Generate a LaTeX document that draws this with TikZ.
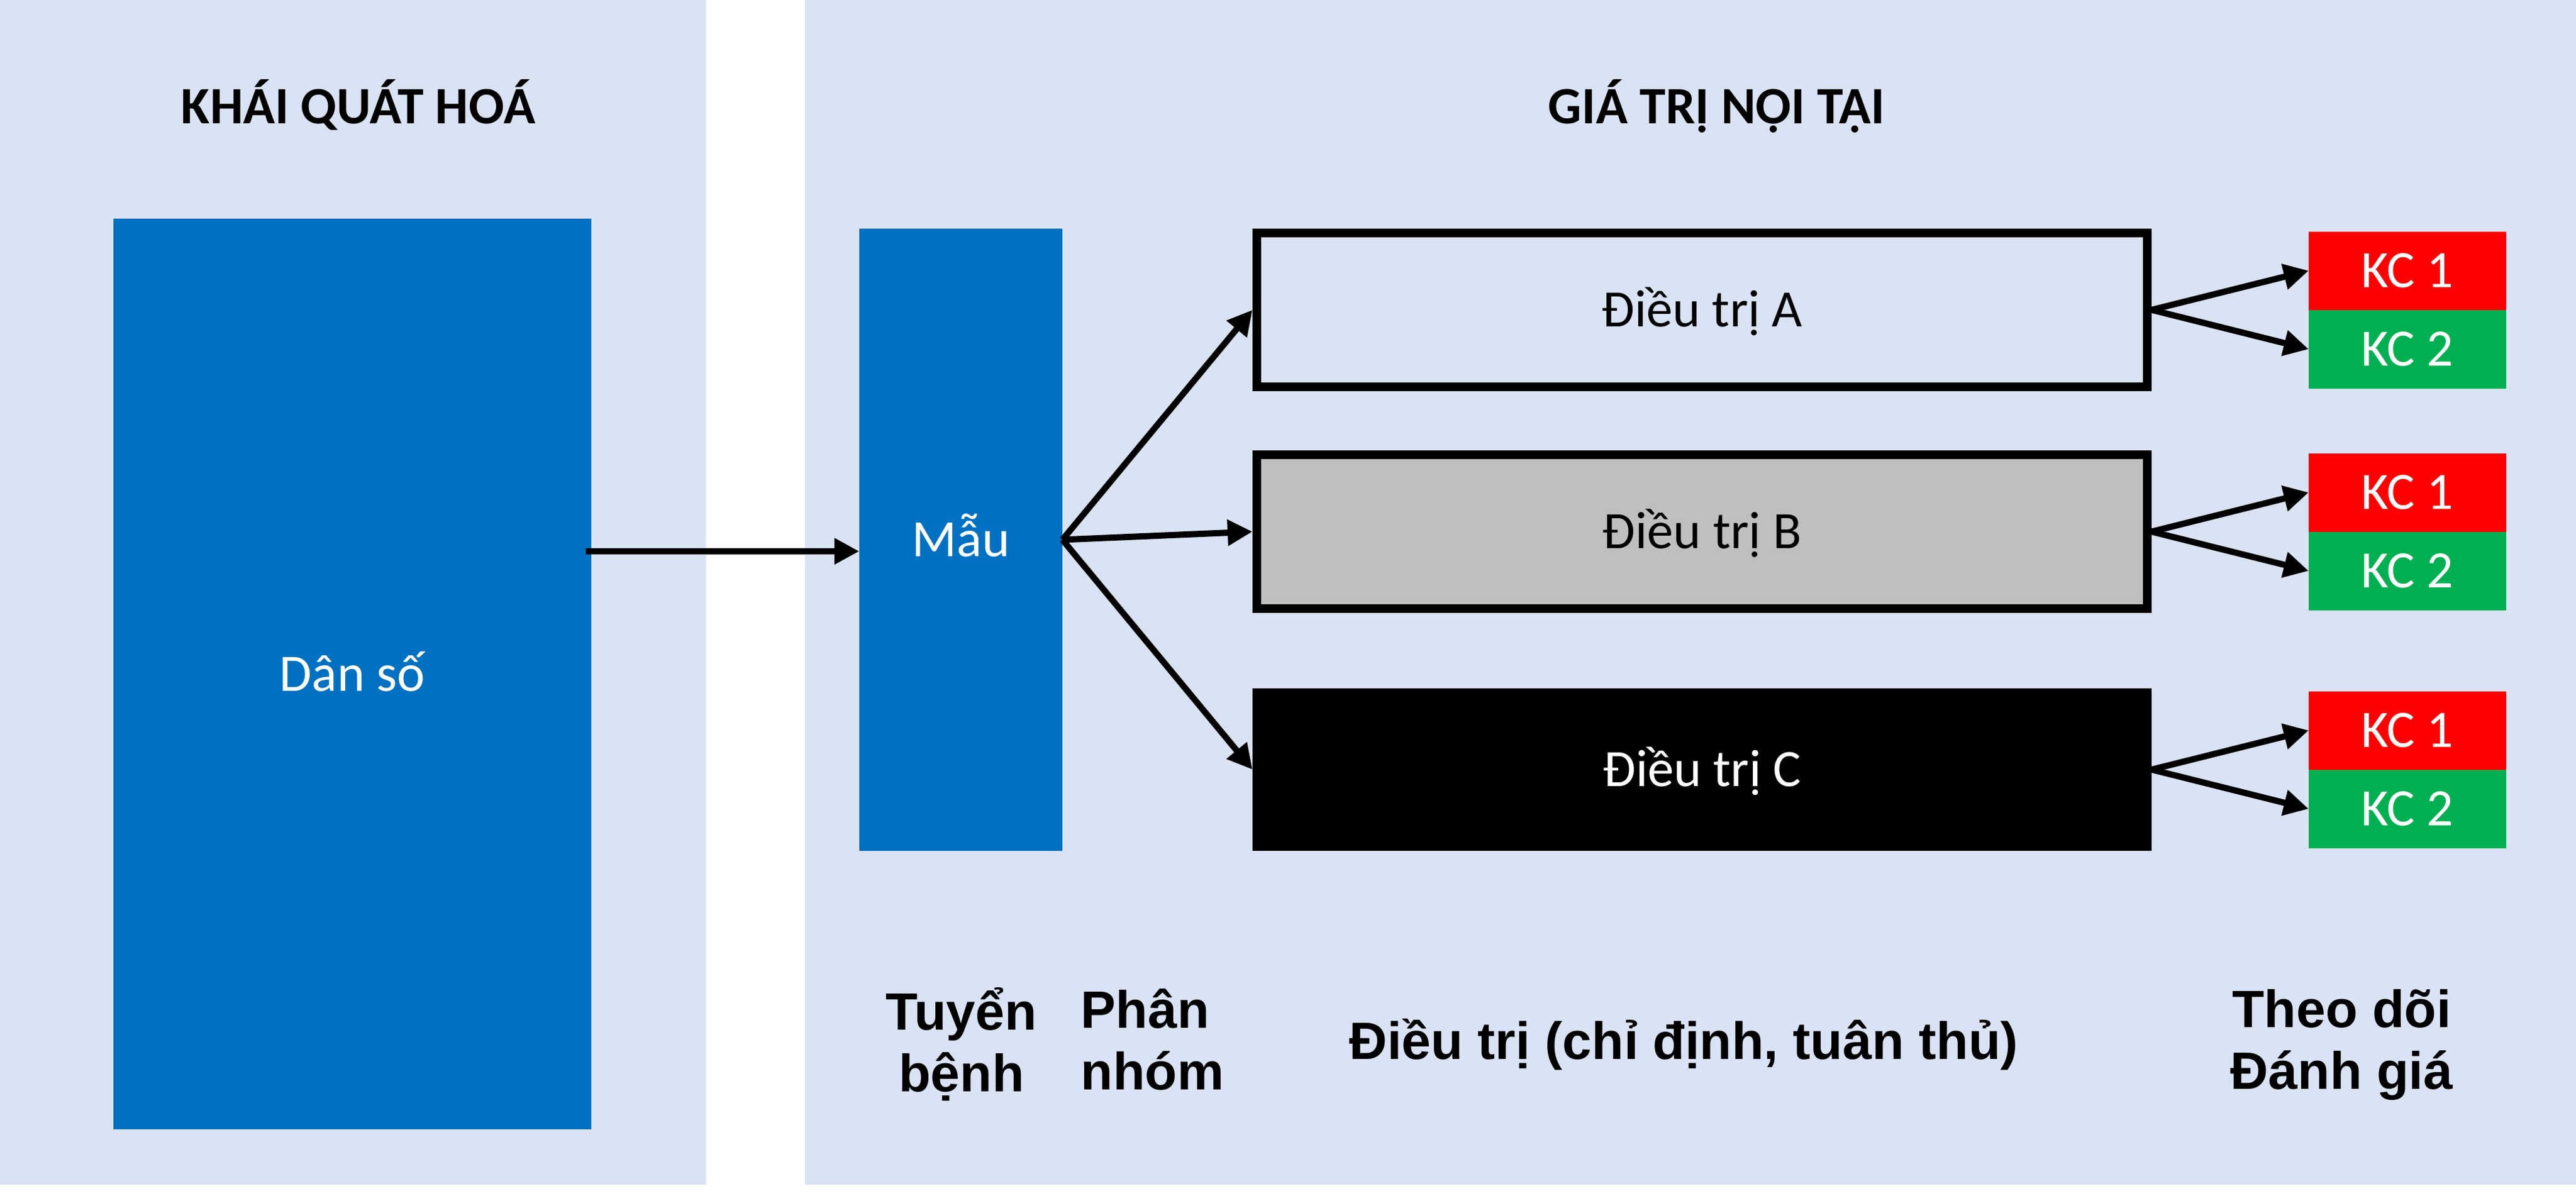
\documentclass[tikz,border=0pt]{standalone}
\usepackage{fontspec}
\setmainfont{Carlito}
\newfontfamily\stepfont{Liberation Sans}
\usetikzlibrary{arrows.meta,positioning}

\definecolor{panelbg}{HTML}{DAE3F3}
\definecolor{popblue}{HTML}{0070C0}
\definecolor{armgray}{HTML}{BFBFBF}
\definecolor{kcred}{HTML}{FF0000}
\definecolor{kcgreen}{HTML}{00B050}

\tikzset{
  capfont/.style={font=\fontsize{24}{28}\selectfont,
    text height=0.545cm, text depth=0pt, inner sep=0pt},
  bluebox/.style={capfont, fill=popblue, text=white, outer sep=0pt},
  armbox/.style={capfont, draw=black, line width=0.14cm,
    minimum width=14.29cm, minimum height=2.47cm},
  kcbox/.style={capfont, text=white, outer sep=0pt,
    minimum width=3.17cm, minimum height=1.26cm},
  arr/.style={-{Triangle[length=0.4cm,width=0.4cm]}, line width=0.1cm},
  headtxt/.style={font=\bfseries\fontsize{24}{28}\selectfont, inner sep=0pt},
  steptxt/.style={font=\stepfont\bfseries\fontsize{24}{28}\selectfont, inner sep=0pt}
}

\begin{document}
\begin{tikzpicture}
\useasboundingbox (0,0) rectangle (41.34,-19.11);

% Panels
\fill [panelbg] (0,0) rectangle (11.33,-19.02);
\fill [panelbg] (12.92,0) rectangle (41.34,-19.02);

% Panel titles
\node [headtxt, anchor=base] (gen) at (5.75,-1.99) {KHÁI QUÁT HOÁ};
\node [headtxt, anchor=base] (intr) at (27.55,-1.99) {GIÁ TRỊ NỘI TẠI};

% Population and sample
\node [bluebox,
    minimum width=7.67cm,
    minimum height=14.62cm] (dan) at (5.655,-10.82) {Dân số};
\node [bluebox,
    minimum width=3.26cm,
    minimum height=9.99cm] (mau) at (15.42,-8.665) {Mẫu};

\coordinate (sel) at (9.40,-8.85);
\draw [arr] (sel) -- (sel -| mau.west);

% Treatment arms
\node [armbox] (trtA) at (27.315,-4.975) {Điều trị A};
\node [armbox, fill=armgray] (trtB) at (27.315,-8.535) {Điều trị B};
\node [armbox, fill=black, text=white] (trtC) at (27.315,-12.355) {Điều trị C};

\draw [arr] (mau.east) -- (trtA.west);
\draw [arr] (mau.east) -- (trtB.west);
\draw [arr] (mau.east) -- (trtC.west);

% Outcomes
\node [kcbox, fill=kcred, above right=0cm and 2.52cm of trtA.east] (kcA1) {KC 1};
\node [kcbox, fill=kcgreen, below=0cm of kcA1] (kcA2) {KC 2};
\node [kcbox, fill=kcred, above right=0cm and 2.52cm of trtB.east] (kcB1) {KC 1};
\node [kcbox, fill=kcgreen, below=0cm of kcB1] (kcB2) {KC 2};
\node [kcbox, fill=kcred, above right=0cm and 2.52cm of trtC.east] (kcC1) {KC 1};
\node [kcbox, fill=kcgreen, below=0cm of kcC1] (kcC2) {KC 2};

\draw [arr] (trtA.east) -- (kcA1.west);
\draw [arr] (trtA.east) -- (kcA2.west);
\draw [arr] (trtB.east) -- (kcB1.west);
\draw [arr] (trtB.east) -- (kcB2.west);
\draw [arr] (trtC.east) -- (kcC1.west);
\draw [arr] (trtC.east) -- (kcC2.west);

% Step labels
\node [steptxt, align=center, anchor=base] (recr) at (15.43,-17.52) {Tuyển\\bệnh};
\node [steptxt, align=left, anchor=base west] (grp) at (17.34,-17.49) {Phân\\nhóm};
\node [steptxt, anchor=base] (treat) at (27.02,-17.00) {Điều trị (chỉ định, tuân thủ)};
\node [steptxt, align=center, anchor=base] (follow) at (37.58,-17.48) {Theo dõi\\Đánh giá};
\end{tikzpicture}
\end{document}
